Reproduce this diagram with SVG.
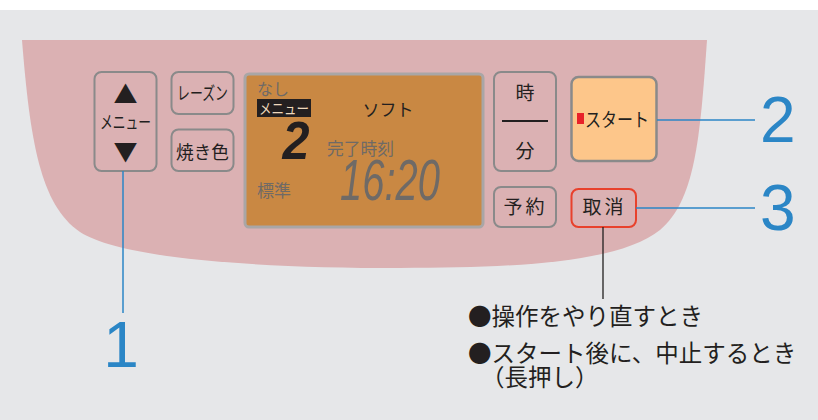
<svg xmlns="http://www.w3.org/2000/svg" width="818" height="420" viewBox="0 0 818 420">
<style>
.btn{fill:none;stroke:#8a8a8a;stroke-width:2}
.jp{font-family:"Noto Sans CJK JP","Noto Sans",sans-serif;fill:#231f20}
.lcdg{font-family:"Noto Sans CJK JP",sans-serif;fill:#6f6a66}
.num{font-family:"Liberation Sans",Arial,sans-serif;fill:#2b86c6;font-size:64px}
.blue{stroke:#2b86c6;stroke-width:1.5;fill:none}
.seg{font-family:"Liberation Sans",Arial,sans-serif;font-style:italic}
</style>
<rect x="0" y="0" width="818" height="420" fill="#e6e7e9"/>
<rect x="0" y="0" width="818" height="10" fill="#ffffff"/>
<path d="M22,40 L707,40 C700,140 695,200 660,230 C620,262 520,268 400,268 C250,268 120,258 80,232 C40,205 30,140 22,40 Z" fill="#dbb1b3"/>

<g id="menu">
<rect class="btn" x="94.5" y="72" width="62" height="99" rx="7"/>
<text class="jp" x="125.5" y="103" font-size="24" text-anchor="middle">▲</text>
<text class="jp" x="125.5" y="129" font-size="18" text-anchor="middle" textLength="51" lengthAdjust="spacingAndGlyphs">メニュー</text>
<text class="jp" x="125.5" y="161" font-size="24" text-anchor="middle">▼</text>
</g>
<g id="raisin">
<rect class="btn" x="171.5" y="72" width="62" height="42" rx="7"/>
<text class="jp" x="202.5" y="99.5" font-size="18" text-anchor="middle" textLength="51" lengthAdjust="spacingAndGlyphs">レーズン</text>
</g>
<g id="yakiiro">
<rect class="btn" x="171.5" y="129.5" width="62" height="41.5" rx="7"/>
<text class="jp" x="202.5" y="159" font-size="18" text-anchor="middle" textLength="53" lengthAdjust="spacingAndGlyphs">焼き色</text>
</g>

<g id="lcd">
<rect x="245" y="74" width="238" height="153" rx="4" fill="#c98843" stroke="#a9a6a6" stroke-width="3"/>
<text class="lcdg" x="257" y="95" font-size="16">なし</text>
<rect x="257" y="99" width="54" height="18" fill="#231f20"/>
<text x="284" y="114" font-size="15" text-anchor="middle" textLength="50" lengthAdjust="spacingAndGlyphs" font-family="Noto Sans CJK JP,sans-serif" fill="#efd9bd">メニュー</text>
<text class="jp" x="388" y="116" font-size="17" text-anchor="middle">ソフト</text>
<text class="seg" x="296" y="159" font-size="54" font-weight="bold" fill="#231f20" text-anchor="middle" textLength="27" lengthAdjust="spacingAndGlyphs">2</text>
<text class="lcdg" x="327" y="155" font-size="17" textLength="67" lengthAdjust="spacingAndGlyphs">完了時刻</text>
<text class="seg" x="340" y="200" font-size="58" fill="#6f6a66" textLength="100" lengthAdjust="spacingAndGlyphs">16:20</text>
<text class="lcdg" x="257" y="197" font-size="17">標準</text>
</g>

<g id="jifun">
<rect class="btn" x="494" y="72" width="62" height="99" rx="7"/>
<text class="jp" x="525" y="100" font-size="19" text-anchor="middle">時</text>
<line x1="502" y1="121" x2="548" y2="121" stroke="#231f20" stroke-width="2"/>
<text class="jp" x="525" y="158" font-size="19" text-anchor="middle">分</text>
</g>
<g id="start">
<rect x="571.5" y="77" width="85" height="84" rx="7" fill="#fdc68a" stroke="#8a8a8a" stroke-width="2.5"/>
<rect x="577" y="113" width="7" height="11" fill="#e8212a"/>
<text class="jp" x="617" y="127" font-size="19" text-anchor="middle" textLength="64" lengthAdjust="spacingAndGlyphs">スタート</text>
</g>
<g id="yoyaku">
<rect class="btn" x="494" y="187" width="62" height="40" rx="7"/>
<text class="jp" x="525.5" y="214" font-size="19" text-anchor="middle" letter-spacing="3">予約</text>
</g>
<g id="torikeshi">
<rect x="571.5" y="189" width="64.5" height="38" rx="7" fill="none" stroke="#e8412c" stroke-width="2"/>
<text class="jp" x="604.5" y="214" font-size="19" text-anchor="middle" letter-spacing="3">取消</text>
</g>

<g id="connectors">
<line class="blue" x1="123" y1="171" x2="123" y2="313"/>
<line class="blue" x1="657" y1="120" x2="755" y2="120"/>
<line class="blue" x1="636" y1="208" x2="755" y2="208"/>
<line x1="603" y1="227" x2="603" y2="299" stroke="#231f20" stroke-width="1.3"/>
</g>

<g id="labels">
<text class="num" x="121" y="367" text-anchor="middle">1</text>
<text class="num" x="760" y="142">2</text>
<text class="num" x="760" y="230">3</text>
<text class="jp" x="468" y="325" font-size="23.5" fill="#231f20">●操作をやり直すとき</text>
<text class="jp" x="468" y="362" font-size="23.5">●スタート後に、中止するとき</text>
<text class="jp" x="481" y="386" font-size="23.5">（長押し）</text>
</g>
</svg>
